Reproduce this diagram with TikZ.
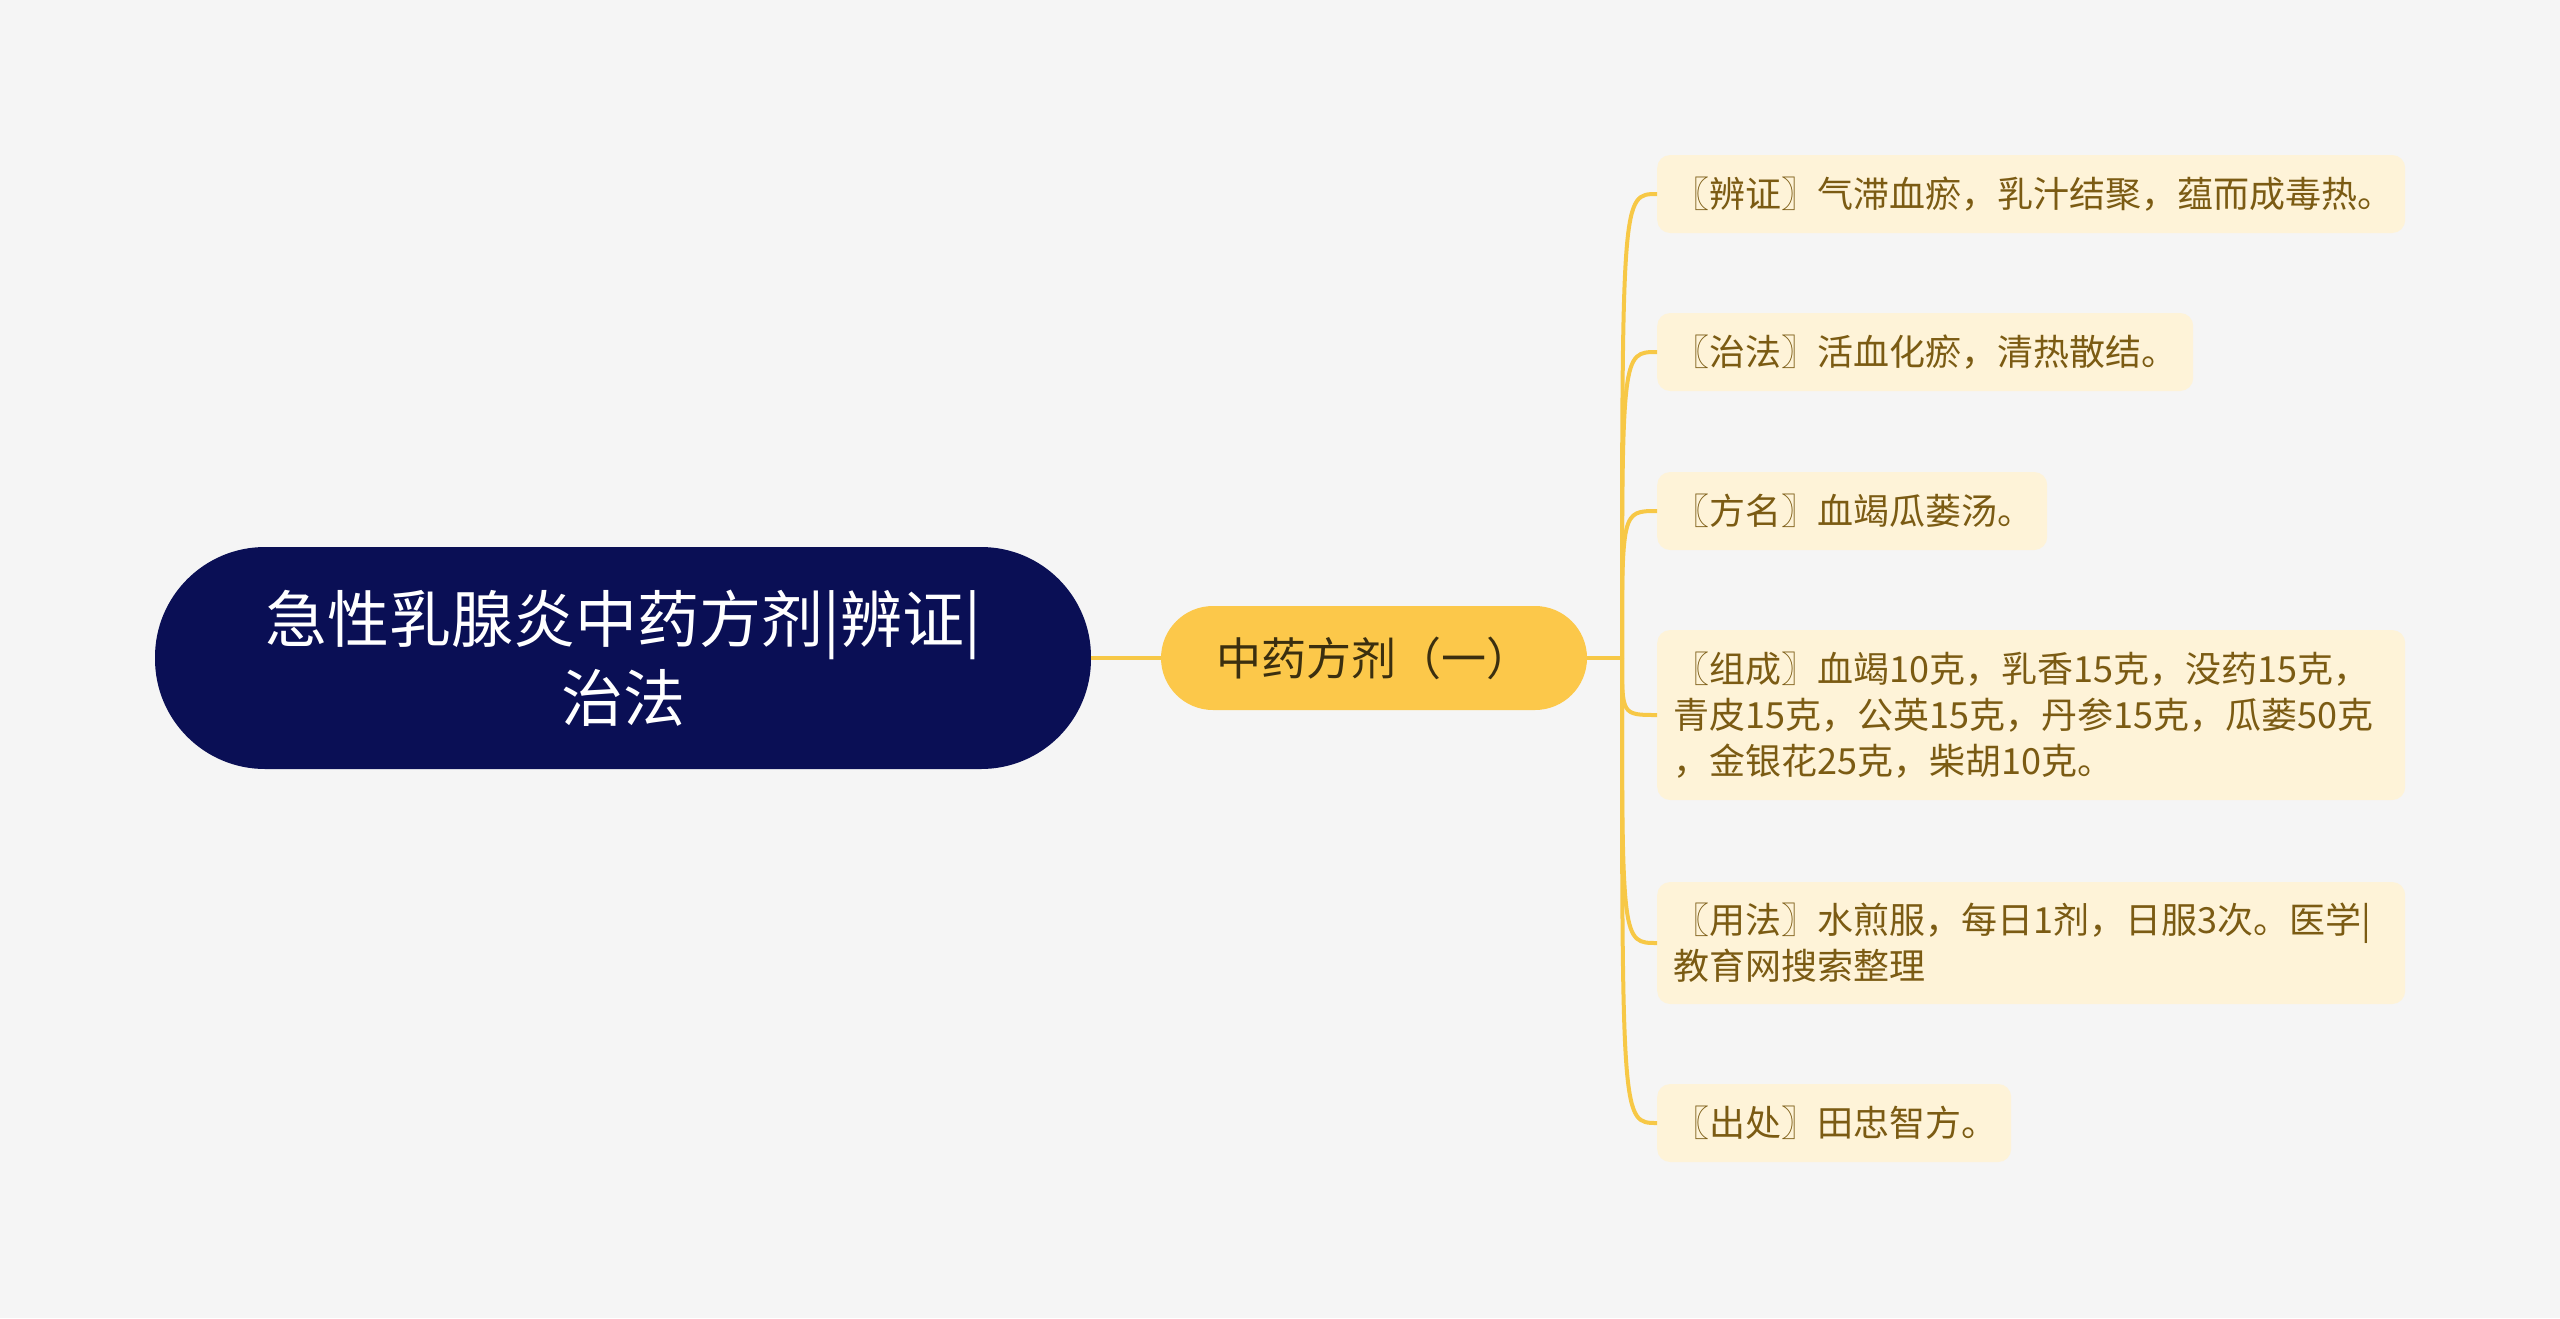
\documentclass[tikz,border=0pt]{standalone}
\usepackage{fontspec}
\setmainfont{Noto Sans CJK SC}
\definecolor{bgc}{HTML}{F5F5F5}
\definecolor{rootc}{HTML}{0A0F55}
\definecolor{midc}{HTML}{FCC84A}
\definecolor{midtxt}{HTML}{3B2F0F}
\definecolor{leafc}{HTML}{FEF3D8}
\definecolor{leaftxt}{HTML}{7B5B13}
\definecolor{linkc}{HTML}{F7C846}
\begin{document}
\begin{tikzpicture}[x=1pt,y=-1pt,
  rootnode/.style={fill=rootc, text=white, rounded corners=110pt, minimum width=936pt, minimum height=222pt, align=center, inner sep=0pt, font=\fontsize{62}{79}\selectfont},
  midnode/.style={fill=midc, text=midtxt, rounded corners=52pt, minimum width=426pt, minimum height=104pt, inner sep=0pt, font=\fontsize{45}{50}\selectfont},
  leaf/.style={fill=leafc, text=leaftxt, rounded corners=13pt, inner xsep=16pt, inner ysep=0pt, align=left, anchor=west, font=\fontsize{36}{46}\selectfont},
  link/.style={draw=linkc, line width=4pt}]
\fill[bgc] (0,0) rectangle (2560,1318);
\node[rootnode] (root) at (623,658) {急性乳腺炎中药方剂|辨证|\\治法};
\node[midnode] (mid) at (1374,658) {中药方剂（一）};
\coordinate (j) at (1622,658);
\node[leaf, text width=716pt, minimum height=78pt] (l1) at (1657,194) {〖辨证〗气滞血瘀，乳汁结聚，蕴而成毒热。};
\node[leaf, text width=504pt, minimum height=78pt] (l2) at (1657,352) {〖治法〗活血化瘀，清热散结。};
\node[leaf, text width=358pt, minimum height=78pt] (l3) at (1657,511) {〖方名〗血竭瓜蒌汤。};
\node[leaf, text width=716pt, minimum height=170pt] (l4) at (1657,715) {〖组成〗血竭10克，乳香15克，没药15克，\\青皮15克，公英15克，丹参15克，瓜蒌50克\\，金银花25克，柴胡10克。};
\node[leaf, text width=716pt, minimum height=122pt] (l5) at (1657,943) {〖用法〗水煎服，每日1剂，日服3次。医学|\\教育网搜索整理};
\node[leaf, text width=322pt, minimum height=78pt] (l6) at (1657,1123) {〖出处〗田忠智方。};
\draw[link] (root.east) -- (mid.west);
\draw[link] (mid.east) -- (j);
\foreach \n in {l1,l2,l3,l4,l5,l6}
  \draw[link] (j) .. controls (j |- \n.west) and (j |- \n.west) .. (\n.west);
\end{tikzpicture}
\end{document}
